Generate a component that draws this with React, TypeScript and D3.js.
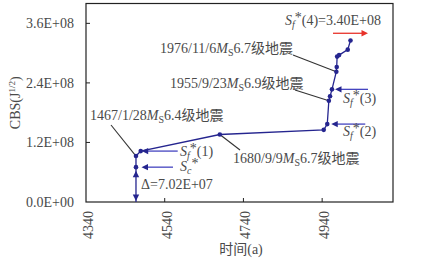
import React from 'react';
import * as d3 from 'd3';

const years = [4467, 4479, 4680, 4944, 4953, 4957, 4960, 4965, 4976, 4977, 4978, 4983, 5005, 5012];
const cbs = [9.26e7, 1.026e8, 1.36e8, 1.454e8, 1.57e8, 2.04e8, 2.13e8, 2.27e8, 2.626e8, 2.72e8, 2.93e8, 2.96e8, 3.07e8, 3.254e8];
const xTicks = [4340, 4540, 4740, 4940];
const yTicks = [0, 1.2e8, 2.4e8, 3.6e8];
const yTickLabels = ['0.0E+00', '1.2E+08', '2.4E+08', '3.6E+08'];
const scValue = 7.02e7;
const sfValues = [1.026e8, 1.57e8, 2.27e8, 3.4e8];
const sfPointIdx = [1, 4, 7];
const quakeDates = ['1467/1/28', '1680/9/9', '1955/9/23', '1976/11/6'];
const quakeMags = ['6.4', '6.7', '6.9', '6.7'];
const quakeIdx = [0, 2, 5, 8];

const W = 421, H = 266;
const L = 86, R = 393, T = 3.5, B = 202;
const FONT = "'Liberation Serif', 'Times New Roman', 'Noto Sans CJK SC', serif";
const TXT = '#4a4a4a';
const NAVY = '#25258f';
const ABLUE = '#4545c0';
const LEAD = '#333';

const x = d3.scaleLinear().domain([4340, 5120]).range([L, R]);
const y = d3.scaleLinear().domain([0, 4e8]).range([B, T]);

function head(tx: number, ty: number, dir: 'l' | 'r' | 'u' | 'd', len = 6.5, hw = 3.2) {
  if (dir === 'l') return `M${tx},${ty}L${tx + len},${ty - hw}L${tx + len},${ty + hw}Z`;
  if (dir === 'r') return `M${tx},${ty}L${tx - len},${ty - hw}L${tx - len},${ty + hw}Z`;
  if (dir === 'u') return `M${tx},${ty}L${tx - hw},${ty + len}L${tx + hw},${ty + len}Z`;
  return `M${tx},${ty}L${tx - hw},${ty - len}L${tx + hw},${ty - len}Z`;
}

function SLabel({ px, py, sub, rest }: { px: number; py: number; sub: string; rest: string }) {
  return (
    <text x={px} y={py} fontFamily={FONT} fontSize={14} fill={TXT}>
      <tspan fontStyle="italic">S</tspan>
      <tspan fontStyle="italic" fontSize={10} dy={3}>{sub}</tspan>
      <tspan dy={-6}>*</tspan>
      <tspan dy={3}>{rest}</tspan>
    </text>
  );
}

export default function App() {
  const line = d3.line<number>().x((_, i) => x(years[i])).y((d) => y(d));
  const xA = x(years[0]);
  const labelPos = [
    { tx: 90, ty: 120, lx: 111, ly: 125 },
    { tx: 233, ty: 163, lx: 240, ly: 150 },
    { tx: 170, ty: 88, lx: 295, ly: 90 },
    { tx: 160, ty: 53, lx: 293, ly: 55 },
  ];
  const sfArrow = [
    { off: 1, len: 36, tx: 180, dy: 5 },
    { off: 4, len: 34, tx: 343, dy: 12 },
    { off: 3, len: 33, tx: 343, dy: 14 },
  ];
  return (
    <svg width={W} height={H} style={{ position: 'absolute', left: 0, top: 0, background: '#fff' }}>
      <rect x={0} y={0} width={W} height={H} fill="#fff" />
      {/* frame */}
      <rect x={L} y={T} width={R - L} height={B - T} fill="none" stroke="#222" strokeWidth={1.2} />
      {/* y ticks */}
      {yTicks.map((t, i) => (
        <g key={'y' + i}>
          {i > 0 && <line x1={L} x2={L + 4} y1={y(t)} y2={y(t)} stroke="#222" strokeWidth={1} />}
          <text x={74} y={y(t) + 5} textAnchor="end" fontFamily={FONT} fontSize={14} fill={TXT}>
            {yTickLabels[i]}
          </text>
        </g>
      ))}
      {/* x ticks */}
      {xTicks.map((t, i) => (
        <g key={'x' + i}>
          {i > 0 && <line x1={x(t)} x2={x(t)} y1={B} y2={B - 4} stroke="#222" strokeWidth={1} />}
          <text
            transform={`translate(${x(t) + 7},211) rotate(-90)`}
            textAnchor="end"
            fontFamily={FONT}
            fontSize={14}
            fill={TXT}
          >
            {t}
          </text>
        </g>
      ))}
      {/* axis titles */}
      <text transform={`translate(20,${(T + B) / 2}) rotate(-90)`} textAnchor="middle" fontFamily={FONT} fontSize={14} fill={TXT}>
        CBS(J<tspan fontSize={9} dy={-5}>1/2</tspan>
        <tspan dy={5}>)</tspan>
      </text>
      <text x={241} y={254} textAnchor="middle" fontFamily={FONT} fontSize={14} fill={TXT}>
        时间(a)
      </text>

      {/* leader lines */}
      {quakeIdx.map((qi, i) => (
        <line key={'ld' + i} x1={labelPos[i].lx} y1={labelPos[i].ly} x2={x(years[qi])} y2={y(cbs[qi])} stroke={LEAD} strokeWidth={1.1} />
      ))}
      {/* quake labels */}
      {quakeIdx.map((qi, i) => (
        <text key={'ql' + i} x={labelPos[i].tx} y={labelPos[i].ty} fontFamily={FONT} fontSize={14} fill={TXT}>
          {quakeDates[i]}
          <tspan fontStyle="italic">M</tspan>
          <tspan fontSize={10} dy={3}>S</tspan>
          <tspan dy={-3}>{quakeMags[i]}级地震</tspan>
        </text>
      ))}

      {/* vertical drop from first point to zero */}
      <line x1={xA} x2={xA} y1={y(cbs[0])} y2={y(0)} stroke={NAVY} strokeWidth={1.3} />
      <path d={head(xA, y(scValue) + 3.5, 'u')} fill={NAVY} />
      <path d={head(xA, y(0) - 1, 'd')} fill={NAVY} />

      {/* main curve */}
      <path d={line(cbs) || ''} fill="none" stroke={NAVY} strokeWidth={1.3} />
      {cbs.map((v, i) => (
        <circle key={'p' + i} cx={x(years[i])} cy={y(v)} r={2.3} fill={NAVY} />
      ))}
      <circle cx={xA} cy={y(scValue)} r={2.3} fill={NAVY} />

      {/* Sf arrows */}
      {sfPointIdx.map((pi, i) => {
        const tipX = x(years[pi]) + sfArrow[i].off;
        const yy = y(sfValues[i]);
        return (
          <g key={'sf' + i}>
            <line x1={tipX + 5} x2={tipX + sfArrow[i].len} y1={yy} y2={yy} stroke={ABLUE} strokeWidth={1.3} />
            <path d={head(tipX, yy, 'l')} fill={NAVY} />
            <SLabel px={sfArrow[i].tx} py={yy + sfArrow[i].dy} sub="f" rest={`(${i + 1})`} />
          </g>
        );
      })}
      {/* Sc arrow */}
      <line x1={xA + 10} x2={xA + 37} y1={y(scValue)} y2={y(scValue)} stroke={ABLUE} strokeWidth={1.3} />
      <path d={head(xA + 5.5, y(scValue), 'l')} fill={NAVY} />
      <SLabel px={180} py={y(scValue) + 4} sub="c" rest="" />
      <text x={141} y={189} fontFamily={FONT} fontSize={14} fill={TXT}>
        Δ=7.02E+07
      </text>

      {/* Sf(4) red arrow */}
      <line x1={333} x2={362} y1={y(sfValues[3])} y2={y(sfValues[3])} stroke="#e8322a" strokeWidth={1.3} />
      <path d={head(368, y(sfValues[3]), 'r')} fill="#e8322a" />
      <SLabel px={285} py={25} sub="f" rest="(4)=3.40E+08" />
    </svg>
  );
}
